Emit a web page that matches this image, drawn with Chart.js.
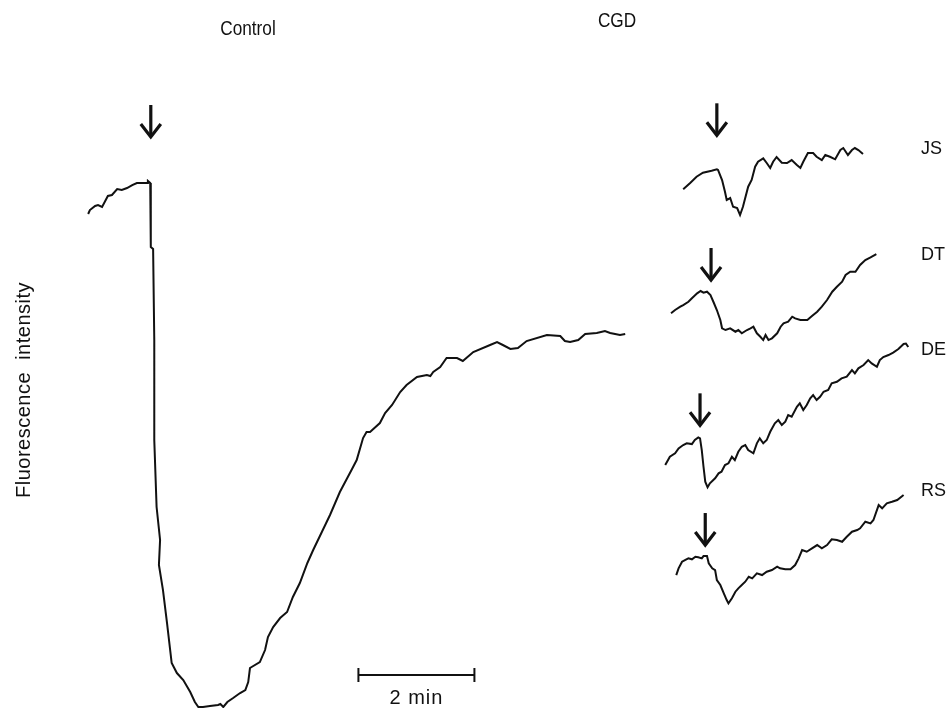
<!DOCTYPE html>
<html>
<head>
<meta charset="utf-8">
<script src="https://cdn.jsdelivr.net/npm/chart.js@4"></script>
<style>
  html, body { margin: 0; padding: 0; background: #fff; }
  #wrap { width: 950px; height: 708px; }
</style>
</head>
<body>
<div id="wrap"><canvas id="traceChart" width="950" height="708"></canvas></div>
<script>
// time in min from stimulus (arrow), fluorescence in arbitrary units
const controlTime = [-1.08, -1.05, -0.96, -0.91, -0.84, -0.74, -0.67, -0.58, -0.50, -0.41, -0.32, -0.24, -0.15, -0.06, -0.05, -0.01,
  0.00, 0.04, 0.06, 0.06, 0.10, 0.16, 0.14, 0.21, 0.28, 0.36, 0.45, 0.56, 0.68, 0.76, 0.82, 0.90, 1.02, 1.16, 1.20, 1.25,
  1.32, 1.42, 1.54, 1.63, 1.68, 1.71, 1.88, 1.97, 2.02, 2.11, 2.23, 2.35, 2.45, 2.57, 2.70, 2.80, 3.09, 3.26, 3.47, 3.55,
  3.66, 3.72, 3.78, 3.95, 4.04, 4.16, 4.30, 4.41, 4.59, 4.76, 4.82, 4.87, 4.99, 5.10, 5.28, 5.38, 5.56, 5.85, 5.97, 6.07,
  6.20, 6.33, 6.48, 6.83, 7.06, 7.14, 7.23, 7.37, 7.49, 7.69, 7.83, 7.92, 8.09, 8.18];
const controlIntensity = [94.16, 94.92, 95.69, 95.88, 95.50, 97.60, 97.79, 98.93, 98.74, 99.12, 99.69, 100.08, 100.08, 100.08, 100.46, 100.08,
  87.86, 87.48, 70.11, 51.03, 38.24, 31.95, 27.18, 22.40, 16.11, 8.47, 6.56, 5.23, 2.94, 1.03, 0.08, 0.08, 0.27, 0.46, 0.65, 0.08,
  1.03, 1.79, 2.75, 3.32, 4.85, 7.52, 8.66, 10.95, 13.44, 15.34, 17.06, 18.21, 21.07, 23.74, 27.56, 30.04, 36.72, 41.11, 45.50, 47.21,
  51.41, 52.56, 52.56, 54.27, 56.18, 57.71, 60.19, 61.53, 63.05, 63.44, 63.24, 64.01, 64.96, 66.68, 66.68, 66.11, 67.82, 69.16, 69.73, 69.16,
  68.40, 68.59, 69.92, 71.07, 70.88, 69.92, 69.73, 70.11, 71.26, 71.45, 71.83, 71.45, 71.07, 71.26];

// CGD patients: change relative to the value at the stimulus
const jsTime = [-0.58, -0.46, -0.35, -0.24, -0.09, 0.00, 0.02, 0.09, 0.14, 0.17, 0.23, 0.28, 0.35, 0.40, 0.45, 0.54, 0.60, 0.66,
  0.71, 0.80, 0.86, 0.92, 0.97, 1.03, 1.12, 1.21, 1.29, 1.38, 1.44, 1.49, 1.57, 1.66, 1.72, 1.81, 1.87, 1.95, 2.04, 2.13,
  2.18, 2.26, 2.33, 2.38, 2.44, 2.52];
const jsIntensity = [-3.82, -2.61, -1.41, -0.65, -0.27, 0.00, -0.13, -2.04, -4.27, -5.86, -5.48, -7.14, -7.39, -8.72, -7.14, -3.32, -2.04, 0.50,
  1.45, 2.10, 1.20, 0.25, 1.45, 2.35, 1.26, 1.20, 1.77, 0.82, 0.25, 1.45, 3.11, 3.11, 2.40, 1.77, 2.73, 2.40, 1.91, 3.68,
  4.06, 2.73, 3.68, 4.06, 3.68, 2.92];

const dtTime = [-0.69, -0.62, -0.53, -0.48, -0.39, -0.33, -0.24, -0.18, -0.13, -0.07, -0.01, 0.04, 0.10, 0.16, 0.19, 0.25, 0.33,
  0.42, 0.47, 0.53, 0.62, 0.68, 0.73, 0.79, 0.85, 0.90, 0.94, 0.99, 1.05, 1.14, 1.20, 1.25, 1.33, 1.40, 1.45, 1.54, 1.66,
  1.74, 1.83, 1.91, 2.00, 2.09, 2.17, 2.26, 2.32, 2.40, 2.49, 2.57, 2.66, 2.75, 2.85];
const dtIntensity = [-3.49, -2.86, -2.23, -1.91, -1.28, -0.63, 0.32, 0.76, 0.44, 0.63, 0.00, -1.28, -2.86, -4.77, -6.35, -6.68, -6.35,
  -7.00, -6.68, -7.31, -6.68, -6.35, -6.05, -7.31, -7.96, -8.59, -7.63, -8.59, -8.26, -7.31, -6.05, -5.40, -5.10, -4.14, -4.45, -4.77, -4.77,
  -4.01, -3.19, -2.23, -0.95, 0.63, 1.58, 2.54, 3.82, 4.45, 4.45, 5.73, 6.68, 7.19, 7.82];

const deTime = [-0.60, -0.52, -0.43, -0.37, -0.29, -0.23, -0.14, -0.09, -0.03, 0.00, 0.03, 0.06, 0.09, 0.13, 0.17, 0.26, 0.32,
  0.37, 0.43, 0.49, 0.55, 0.60, 0.66, 0.72, 0.78, 0.83, 0.92, 0.98, 1.03, 1.09, 1.15, 1.21, 1.29, 1.35, 1.41, 1.47, 1.52,
  1.58, 1.67, 1.72, 1.78, 1.84, 1.90, 1.95, 2.01, 2.07, 2.13, 2.21, 2.27, 2.36, 2.44, 2.53, 2.62, 2.67, 2.73, 2.82, 2.90,
  2.96, 3.05, 3.10, 3.16, 3.25, 3.33, 3.42, 3.51, 3.55, 3.59];
const deIntensity = [-5.10, -3.51, -2.86, -1.91, -1.28, -0.95, -1.09, -0.32, 0.19, 0.00, -2.23, -5.42, -8.28, -9.35, -8.59, -7.63, -6.68,
  -6.37, -5.10, -4.77, -3.51, -4.14, -2.56, -1.60, -1.28, -2.23, -2.86, -0.95, 0.00, -0.95, -0.32, 1.26, 2.86, 3.49, 2.54, 3.17, 4.45,
  4.12, 6.03, 6.68, 5.40, 6.35, 7.63, 8.26, 7.31, 7.94, 8.89, 9.22, 10.50, 10.80, 11.45, 11.76, 13.03, 12.40, 13.36, 13.99, 14.94,
  14.31, 13.66, 14.94, 15.52, 15.90, 16.37, 17.04, 18.00, 18.09, 17.42];

const rsTime = [-0.50, -0.46, -0.40, -0.35, -0.29, -0.23, -0.17, -0.12, -0.06, -0.03, 0.03, 0.06, 0.12, 0.17, 0.20, 0.26, 0.32,
  0.37, 0.40, 0.46, 0.52, 0.57, 0.63, 0.69, 0.75, 0.81, 0.89, 0.98, 1.06, 1.15, 1.24, 1.29, 1.38, 1.47, 1.55, 1.61, 1.67,
  1.75, 1.84, 1.93, 2.01, 2.10, 2.18, 2.27, 2.36, 2.44, 2.53, 2.62, 2.67, 2.76, 2.85, 2.90, 2.99, 3.05, 3.13, 3.22, 3.31, 3.42];
const rsIntensity = [-3.63, -2.35, -1.09, -0.76, -0.44, -0.63, -0.13, -0.25, -0.44, 0.00, 0.00, -1.39, -2.35, -2.67, -4.58, -5.53, -7.12,
  -8.40, -9.03, -8.07, -6.81, -6.16, -5.53, -4.90, -3.95, -4.26, -3.30, -3.63, -3.00, -2.67, -2.04, -2.35, -2.54, -2.54, -1.72, -0.44, 1.15,
  0.82, 1.47, 2.10, 1.47, 2.10, 3.19, 3.05, 2.73, 3.68, 4.64, 4.96, 5.29, 6.55, 6.24, 6.87, 9.73, 9.10, 10.06, 10.36, 10.69, 11.64];

const patientLabels = ["JS", "DT", "DE", "RS"];
const scaleBarMinutes = 2;

// layout: where each CGD trace sits on the shared time / intensity frame
const patientOrigins = [
  { t: 9.76, v: 102.69 },
  { t: 9.66, v: 78.70 },
  { t: 9.47, v: 51.35 },
  { t: 9.56, v: 28.89 }
];
const controlOrigin = { t: 0, v: 0 };
const controlStim = { t: 0, v: 100.08 };
const arrowGaps = [46, 34, 15, 13, 11];
const labelY = [149, 255, 350, 491];

const toPoints = (ts, vs, o) => ts.map((t, i) => ({ x: o.t + t, y: o.v + vs[i] }));

const patientSeries = [[jsTime, jsIntensity], [dtTime, dtIntensity], [deTime, deIntensity], [rsTime, rsIntensity]];

const lineStyle = { borderColor: '#111', borderWidth: 2, pointRadius: 0, showLine: true, tension: 0, clip: false };

const datasets = [
  Object.assign({ label: 'Control', data: toPoints(controlTime, controlIntensity, controlOrigin) }, lineStyle)
];
patientSeries.forEach((s, i) => {
  datasets.push(Object.assign({ label: patientLabels[i], data: toPoints(s[0], s[1], patientOrigins[i]) }, lineStyle));
});

function drawArrow(ctx, x, tip) {
  ctx.save();
  ctx.strokeStyle = '#111';
  ctx.lineWidth = 3.2;
  ctx.beginPath();
  ctx.moveTo(x, tip - 32);
  ctx.lineTo(x, tip - 2);
  ctx.stroke();
  ctx.beginPath();
  ctx.moveTo(x - 10, tip - 13);
  ctx.lineTo(x, tip);
  ctx.lineTo(x + 10, tip - 13);
  ctx.stroke();
  ctx.restore();
}

const annotations = {
  id: 'annotations',
  afterDatasetsDraw(chart) {
    const ctx = chart.ctx;
    const xs = chart.scales.x, ys = chart.scales.y;

    // stimulus arrows
    const stims = [controlStim].concat(patientOrigins);
    stims.forEach((o, i) => {
      drawArrow(ctx, xs.getPixelForValue(o.t), ys.getPixelForValue(o.v) - arrowGaps[i]);
    });

    ctx.save();
    ctx.fillStyle = '#111';
    ctx.textBaseline = 'middle';

    // group titles (condensed face)
    ctx.font = '20px "Liberation Sans", Arial, sans-serif';
    ctx.textAlign = 'center';
    [['Control', 248, 29], ['CGD', 617, 21]].forEach(([txt, x, y]) => {
      ctx.save();
      ctx.translate(x, y);
      ctx.scale(0.86, 1);
      ctx.fillText(txt, 0, 0);
      ctx.restore();
    });

    // patient labels
    ctx.font = '18px "Liberation Sans", Arial, sans-serif';
    ctx.textAlign = 'left';
    patientLabels.forEach((l, i) => ctx.fillText(l, 921, labelY[i]));

    // y label
    ctx.save();
    ctx.translate(24, 390);
    ctx.rotate(-Math.PI / 2);
    ctx.textAlign = 'center';
    ctx.font = '20px "Liberation Sans", Arial, sans-serif';
    ctx.letterSpacing = '0.5px';
    ctx.fillText('Fluorescence  intensity', 0, 0);
    ctx.restore();

    // time scale bar
    const x0 = xs.getPixelForValue(3.58);
    const x1 = xs.getPixelForValue(3.58 + scaleBarMinutes);
    const yb = ys.getPixelForValue(6.18);
    ctx.strokeStyle = '#111';
    ctx.lineWidth = 2;
    ctx.beginPath();
    ctx.moveTo(x0, yb); ctx.lineTo(x1, yb);
    ctx.moveTo(x0, yb - 7); ctx.lineTo(x0, yb + 7);
    ctx.moveTo(x1, yb - 7); ctx.lineTo(x1, yb + 7);
    ctx.stroke();
    ctx.font = '20px "Liberation Sans", Arial, sans-serif';
    ctx.letterSpacing = '1px';
    ctx.textAlign = 'center';
    ctx.fillText(scaleBarMinutes + ' min', (x0 + x1) / 2, yb + 23);
    ctx.restore();
  }
};

const chart = new Chart(document.getElementById('traceChart').getContext('2d'), {
  type: 'scatter',
  data: { datasets: datasets },
  options: {
    responsive: false,
    animation: false,
    layout: { padding: 0 },
    scales: {
      x: { type: 'linear', min: -2.6, max: 13.78, display: false },
      y: { type: 'linear', min: -0.11, max: 135, display: false }
    },
    plugins: { legend: { display: false }, tooltip: { enabled: false } }
  },
  plugins: [annotations]
});
</script>
</body>
</html>
